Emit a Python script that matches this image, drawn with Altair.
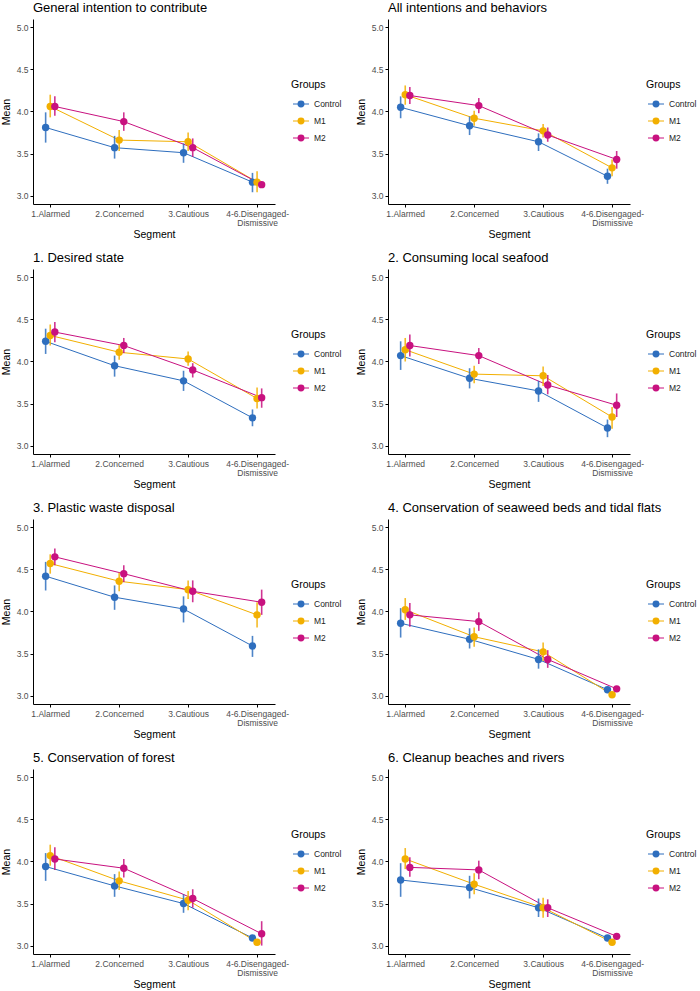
import altair as alt
import pandas as pd

# Segment categories (x axis) and survey groups (colour)
SEGMENTS = ["1.Alarmed", "2.Concerned", "3.Cautious", "4-6.Disengaged-Dismissive"]
SEGMENT_LINES = [["1.Alarmed"], ["2.Concerned"], ["3.Cautious"], ["4-6.Disengaged-", "Dismissive"]]
GROUPS = ["Control", "M1", "M2"]
COLORS = ["#2E6EBE", "#F2AF00", "#C8117F"]
LEGEND_TITLE = "Groups"

TITLES = [
    "General intention to contribute",
    "All intentions and behaviors",
    "1. Desired state",
    "2. Consuming local seafood",
    "3. Plastic waste disposal",
    "4. Conservation of seaweed beds and tidal flats",
    "5. Conservation of forest",
    "6. Cleanup beaches and rivers",
]

N = None  # interval not shown

# Means and interval bounds, one list per group, one entry per segment
general_mean = {"Control": [3.81, 3.57, 3.51, 3.16], "M1": [4.06, 3.66, 3.64, 3.16], "M2": [4.06, 3.88, 3.57, 3.13]}
general_lo = {"Control": [3.63, 3.44, 3.39, 3.04], "M1": [3.93, 3.53, 3.53, 3.04], "M2": [3.95, 3.77, 3.46, N]}
general_hi = {"Control": [3.99, 3.71, 3.62, 3.27], "M1": [4.20, 3.78, 3.75, 3.29], "M2": [4.18, 3.99, 3.68, N]}

all_mean = {"Control": [4.05, 3.83, 3.64, 3.23], "M1": [4.20, 3.92, 3.77, 3.33], "M2": [4.19, 4.07, 3.72, 3.43]}
all_lo = {"Control": [3.92, 3.72, 3.53, 3.14], "M1": [4.08, 3.83, 3.69, 3.23], "M2": [4.09, 3.98, 3.64, 3.32]}
all_hi = {"Control": [4.18, 3.94, 3.74, 3.32], "M1": [4.31, 4.01, 3.85, 3.43], "M2": [4.29, 4.16, 3.81, 3.53]}

desired_mean = {"Control": [4.24, 3.95, 3.77, 3.33], "M1": [4.31, 4.11, 4.03, 3.56], "M2": [4.35, 4.19, 3.90, 3.57]}
desired_lo = {"Control": [4.09, 3.82, 3.65, 3.23], "M1": [4.19, 4.02, 3.95, 3.44], "M2": [4.23, 4.10, 3.81, 3.45]}
desired_hi = {"Control": [4.39, 4.07, 3.89, 3.43], "M1": [4.44, 4.20, 4.12, 3.69], "M2": [4.47, 4.28, 3.98, 3.68]}

seafood_mean = {"Control": [4.07, 3.80, 3.65, 3.21], "M1": [4.14, 3.85, 3.83, 3.34], "M2": [4.19, 4.07, 3.72, 3.48]}
seafood_lo = {"Control": [3.90, 3.68, 3.52, 3.10], "M1": [4.00, 3.74, 3.71, 3.20], "M2": [4.06, 3.97, 3.61, 3.34]}
seafood_hi = {"Control": [4.24, 3.92, 3.77, 3.31], "M1": [4.28, 3.95, 3.94, 3.46], "M2": [4.32, 4.16, 3.84, 3.62]}

plastic_mean = {"Control": [4.42, 4.17, 4.03, 3.59], "M1": [4.57, 4.36, 4.26, 3.96], "M2": [4.65, 4.45, 4.24, 4.11]}
plastic_lo = {"Control": [4.25, 4.02, 3.87, 3.46], "M1": [4.45, 4.24, 4.15, 3.81], "M2": [4.55, 4.35, 4.11, 3.96]}
plastic_hi = {"Control": [4.59, 4.31, 4.18, 3.71], "M1": [4.68, 4.46, 4.37, 4.11], "M2": [4.75, 4.55, 4.37, 4.26]}

seaweed_mean = {"Control": [3.86, 3.67, 3.43, 3.07], "M1": [4.02, 3.70, 3.52, 3.01], "M2": [3.96, 3.88, 3.43, 3.08]}
seaweed_lo = {"Control": [3.69, 3.56, 3.32, N], "M1": [3.90, 3.58, 3.41, N], "M2": [3.82, 3.77, 3.33, N]}
seaweed_hi = {"Control": [4.04, 3.80, 3.55, N], "M1": [4.16, 3.81, 3.63, N], "M2": [4.10, 3.99, 3.54, N]}

forest_mean = {"Control": [3.94, 3.71, 3.50, 3.09], "M1": [4.07, 3.77, 3.54, 3.04], "M2": [4.03, 3.92, 3.56, 3.14]}
forest_lo = {"Control": [3.77, 3.58, 3.39, N], "M1": [3.95, 3.66, 3.42, N], "M2": [3.90, 3.81, 3.45, 3.00]}
forest_hi = {"Control": [4.10, 3.85, 3.61, N], "M1": [4.20, 3.88, 3.65, N], "M2": [4.17, 4.03, 3.67, 3.29]}

beach_mean = {"Control": [3.78, 3.69, 3.45, 3.09], "M1": [4.03, 3.73, 3.45, 3.04], "M2": [3.93, 3.90, 3.45, 3.11]}
beach_lo = {"Control": [3.58, 3.56, 3.34, N], "M1": [3.91, 3.61, 3.33, N], "M2": [3.82, 3.79, 3.34, N]}
beach_hi = {"Control": [3.98, 3.83, 3.56, N], "M1": [4.16, 3.86, 3.57, N], "M2": [4.05, 4.01, 3.55, N]}

PANEL_DATA = [
    (general_mean, general_lo, general_hi),
    (all_mean, all_lo, all_hi),
    (desired_mean, desired_lo, desired_hi),
    (seafood_mean, seafood_lo, seafood_hi),
    (plastic_mean, plastic_lo, plastic_hi),
    (seaweed_mean, seaweed_lo, seaweed_hi),
    (forest_mean, forest_lo, forest_hi),
    (beach_mean, beach_lo, beach_hi),
]

FONT = "Liberation Sans"
DODGE = 0.2 / 3  # horizontal offset between groups within a segment
PLOT_W, PLOT_H = 242, 185

# Legend placement to the right of each plot (pixels from the plot origin)
LEG_LEFT = 258
LEG_TITLE_Y = 66
LEG_ROWS = [85, 119]  # first and last key row

label_expr = "[" + ",".join(
    "[" + ",".join(f"'{s}'" for s in lines) + "]" for lines in SEGMENT_LINES
) + "][datum.value - 1]"
group_list = "[" + ",".join(f"'{g}'" for g in GROUPS) + "]"
group_scale = alt.Scale(domain=GROUPS, range=COLORS)


def legend_block():
    keys = alt.Chart(pd.DataFrame({"group": GROUPS})).transform_calculate(
        k=f"indexof({group_list}, datum.group)"
    )
    key_y = alt.Y("k:Q", scale=alt.Scale(domain=[0, len(GROUPS) - 1], range=LEG_ROWS,
                                         nice=False, zero=False), axis=None)
    key_line = keys.mark_rule(strokeWidth=1).encode(
        x=alt.value(LEG_LEFT + 2), x2=alt.value(LEG_LEFT + 18), y=key_y,
        stroke=alt.Stroke("group:N", scale=group_scale, legend=None),
    )
    key_dot = keys.mark_point(filled=True, size=48, opacity=1).encode(
        x=alt.value(LEG_LEFT + 10), y=key_y,
        fill=alt.Fill("group:N", scale=group_scale, legend=None),
    )
    key_text = keys.mark_text(align="left", baseline="middle", font=FONT, fontSize=8.5,
                              color="#222222").encode(
        x=alt.value(LEG_LEFT + 23), y=key_y, text="group:N",
    )
    head = alt.Chart(pd.DataFrame({"t": [LEGEND_TITLE]})).mark_text(
        align="left", baseline="middle", font=FONT, fontSize=10.5, color="black",
    ).encode(x=alt.value(LEG_LEFT), y=alt.value(LEG_TITLE_Y), text="t:N")
    return alt.layer(key_line, key_dot, key_text, head)


def panel(title, means, los, his):
    rows = []
    for g in GROUPS:
        for i, seg in enumerate(SEGMENTS):
            rows.append({"segment": seg, "seg": i + 1, "group": g,
                         "mean": means[g][i], "lo": los[g][i], "hi": his[g][i]})
    df = pd.DataFrame(rows)

    base = alt.Chart(df).transform_calculate(
        xd=f"datum.seg + (indexof({group_list}, datum.group) - 1) * {DODGE}"
    )

    x = alt.X(
        "xd:Q",
        title="Segment",
        scale=alt.Scale(domain=[0.75, 4.26], nice=False, zero=False),
        axis=alt.Axis(values=[1, 2, 3, 4], labelExpr=label_expr, grid=False,
                      labelAlign="center", labelBaseline="top", labelLineHeight=9,
                      labelFlush=False, labelOverlap=False),
    )
    y = alt.Y(
        "mean:Q",
        title="Mean",
        scale=alt.Scale(domain=[2.9, 5.1], nice=False, zero=False),
        axis=alt.Axis(values=[3.0, 3.5, 4.0, 4.5, 5.0], format=".1f", grid=False),
    )
    stroke = alt.Stroke("group:N", scale=group_scale, legend=None)
    fill = alt.Fill("group:N", scale=group_scale, legend=None)

    lines = base.mark_line(strokeWidth=1).encode(x=x, y=y, stroke=stroke, order="seg:Q")
    bars = base.mark_rule(strokeWidth=1.6, opacity=0.85).encode(
        x=x, y=alt.Y("lo:Q"), y2="hi:Q", stroke=stroke,
    )
    points = base.mark_point(filled=True, size=55, opacity=1).encode(x=x, y=y, fill=fill)
    plot = alt.layer(lines, bars, points)
    return (
        alt.layer(plot, legend_block())
        .resolve_scale(y="independent")
        .properties(
            width=PLOT_W, height=PLOT_H,
            title=alt.TitleParams(title, anchor="start", frame="group", fontSize=13,
                                  font=FONT, fontWeight="normal", color="black", offset=4),
        )
    )


charts = [panel(t, *d) for t, d in zip(TITLES, PANEL_DATA)]

chart = (
    alt.concat(*charts, columns=2, spacing={"row": 12, "column": 14})
    .properties(padding={"left": 1, "top": 2, "right": 0, "bottom": 0})
    .configure_view(stroke=None)
    .configure_axis(
        domainColor="black", domainWidth=1, tickColor="black", tickSize=3,
        labelFont=FONT, labelFontSize=8.5, labelColor="#4D4D4D", labelPadding=2,
        titleFont=FONT, titleFontSize=10.5, titleFontWeight="normal", titleColor="black",
    )
    .configure_axisX(titlePadding=3)
    .configure_axisY(titlePadding=5)
)

chart.save("out.html", embed_options={"renderer": "svg", "actions": False})
